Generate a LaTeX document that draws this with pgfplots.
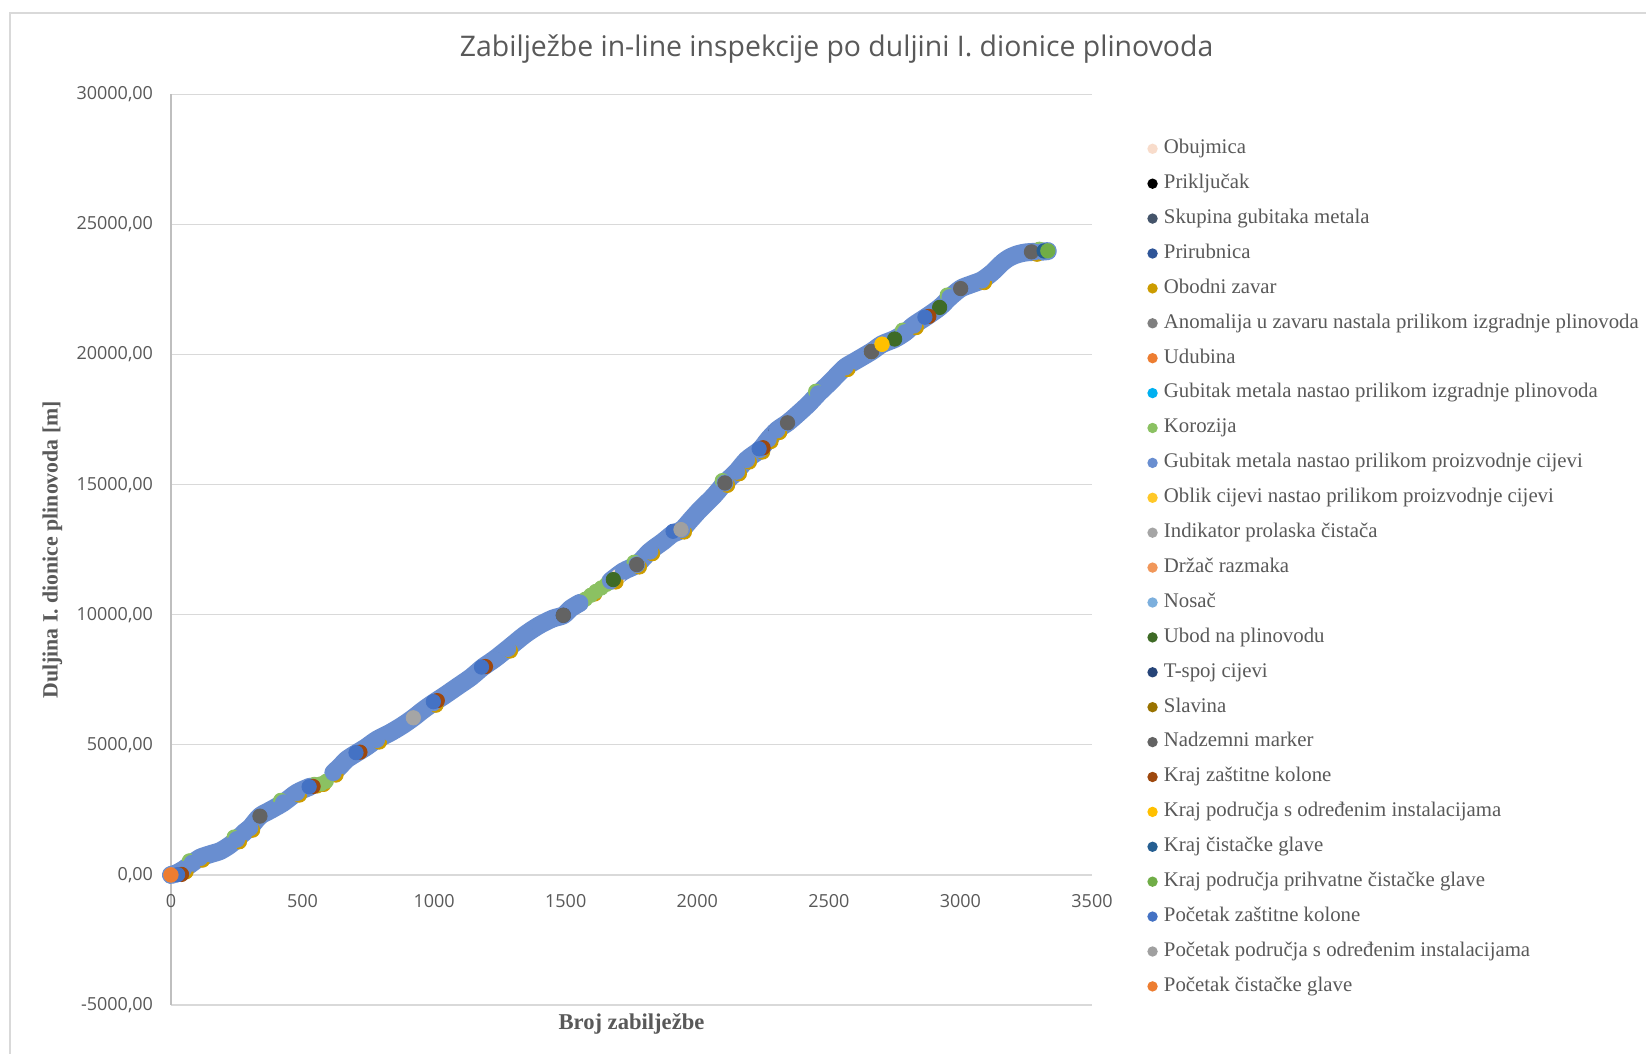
\documentclass[border=0pt]{standalone}
\usepackage{pgfplots}
\pgfplotsset{compat=1.18}
\usepackage{pgfplotstable}
\usepackage{fontspec}
\setmainfont{Liberation Serif}
\newfontfamily\osans{Open Sans}

\definecolor{textc}{HTML}{595959}
\definecolor{gridc}{HTML}{D9D9D9}
\definecolor{axisc}{HTML}{BFBFBF}
\definecolor{borderc}{HTML}{D9D9D9}
\definecolor{cA}{HTML}{F8DCCB}
\definecolor{cB}{HTML}{000000}
\definecolor{cC}{HTML}{44546A}
\definecolor{cD}{HTML}{2F5597}
\definecolor{cE}{HTML}{CC9C00}
\definecolor{cF}{HTML}{7F7F7F}
\definecolor{cG}{HTML}{ED7D31}
\definecolor{cH}{HTML}{00B0F0}
\definecolor{cI}{HTML}{8BC162}
\definecolor{cJ}{HTML}{698ED0}
\definecolor{cK}{HTML}{FFC828}
\definecolor{cL}{HTML}{A5A5A5}
\definecolor{cM}{HTML}{F1975A}
\definecolor{cN}{HTML}{7CAFDD}
\definecolor{cO}{HTML}{3E6B26}
\definecolor{cP}{HTML}{264478}
\definecolor{cQ}{HTML}{997300}
\definecolor{cR}{HTML}{636363}
\definecolor{cS}{HTML}{9E480E}
\definecolor{cT}{HTML}{FFC000}
\definecolor{cU}{HTML}{255E91}
\definecolor{cV}{HTML}{70AD47}
\definecolor{cW}{HTML}{4472C4}
\definecolor{cX}{HTML}{A0A0A0}
\definecolor{cY}{HTML}{ED7D31}

\pgfplotstableread{
x y
0 0
20 60
47 210
80 450
110 660
150 800
186 915
220 1120
250 1365
280 1650
300 1810
338 2260
380 2500
427 2775
478 3160
528 3390
}\mainA
\pgfplotstableread{
x y
617 3930
645 4200
668 4440
706 4690
740 4900
782 5200
832 5460
880 5750
921 6040
960 6350
997 6615
1040 6900
1090 7250
1140 7600
1185 7984
1230 8300
1280 8700
1345 9234
1400 9600
1450 9850
1491 9981
1520 10250
1554 10457
}\mainB
\pgfplotstableread{
x y
1670 11300
1719 11671
1770 11929
1820 12440
1871 12824
1905 13100
1941 13273
1975 13650
2010 14040
2061 14552
2105 15067
2150 15513
2188 15963
2238 16347
2270 16750
2303 17100
2343 17380
2380 17700
2423 18100
2460 18500
2502 18910
2530 19200
2562 19520
2600 19750
2662 20120
2702 20400
2750 20600
2790 20850
2822 21130
2870 21450
2921 21815
2960 22200
3001 22540
3040 22700
3081 22860
3120 23150
3161 23550
3190 23750
3221 23870
3250 23930
3281 23950
3310 23960
3332 23980
}\mainC

\pgfplotsset{
  legend image code/.code={\fill[#1, draw=none] (0pt,0pt) circle (2.6pt);},
  dots/.style={only marks, mark=*, mark size=3.6pt, color=#1},
}

\begin{document}
\begin{tikzpicture}
\useasboundingbox (0,0) rectangle (823pt,527pt);
\fill[white] (0,0) rectangle (823pt,527pt);
\draw[color=borderc, line width=0.8pt] (5pt,0pt) -- (5pt,520.5pt) -- (823pt,520.5pt);
\node[font=\osans\fontsize{14.2}{17}\selectfont, text=textc] at (418.3pt,502.3pt) {Zabilježbe in-line inspekcije po duljini I. dionice plinovoda};
\begin{axis}[
  at={(85.5pt,24.5pt)}, anchor=south west, scale only axis,
  width=460.5pt, height=455.25pt,
  xmin=0, xmax=3500, ymin=-5000, ymax=30000,
  clip=false,
  scaled x ticks=false, scaled y ticks=false,
  xtick={0,500,1000,1500,2000,2500,3000,3500},
  xticklabels={0,500,1000,1500,2000,2500,3000,3500},
  ytick={-5000,0,5000,10000,15000,20000,25000,30000},
  yticklabels={{-5000,00},{0,00},{5000,00},{10000,00},{15000,00},{20000,00},{25000,00},{30000,00}},
  axis x line=bottom, axis y line=left,
  x axis line style={draw=none},
  y axis line style={draw=axisc, line width=0.6pt, -},
  major tick length=0pt,
  ymajorgrids, major grid style={draw=gridc, line width=0.6pt},
  tick label style={font=\osans\fontsize{9}{11}\selectfont, text=textc},
  xticklabel style={anchor=center, inner sep=0pt, yshift=52.2pt},
  yticklabel style={anchor=east, inner sep=0pt, xshift=-8.8pt},
  xlabel={Broj zabilježbe},
  xlabel style={at={(axis description cs:0.5,-0.0203)}, anchor=center, font=\bfseries\fontsize{11.3}{13}\selectfont, text=textc},
  ylabel={Duljina I. dionice plinovoda [m]},
  ylabel style={at={(axis description cs:-0.1288,0.5)}, anchor=center, font=\bfseries\fontsize{10.9}{13}\selectfont, text=textc},
  legend cell align=left,
  legend style={draw=none, fill=none, at={(1.0601,0.9508)}, anchor=north west,
    inner sep=0pt, outer sep=0pt, font=\fontsize{10.4}{12}\selectfont, text=textc,
    row sep=7.95pt, column sep=3.1pt,
    nodes={inner sep=0pt, text height=7.2pt, text depth=2.3pt}},
]
% 1 Obujmica
\addplot[dots=cA] coordinates {(1700,11480)};
% 2 Prikljucak
\addplot[dots=cB] coordinates {(2300,17080)};
% 3 Skupina
\addplot[dots=cC] coordinates {(1230,8300)};
% 4 Prirubnica
\addplot[dots=cD] coordinates {(1000,6650)};
% 5 Obodni zavar
\addplot[dots=cE] coordinates {
(57,120) (120,570) (260,1275) (310,1720) (488,3070) (555,3420) (580,3480)
(627,3840) (792,5110) (1007,6525) (1290,8610) (1610,10800) (1691,11262)
(1780,11839) (1830,12350) (1951,13183) (2115,14977) (2160,15423) (2198,15873)
(2248,16257) (2280,16660) (2313,17010) (2572,19430) (2832,21040) (3091,22770)
(3291,23860)};
% 6 Anomalija
\addplot[dots=cF] coordinates {(2343,17380)};
% 7 Udubina
\addplot[dots=cG] coordinates {(15,30)};
% 8 Gubitak izgradnje
\addplot[dots=cH] coordinates {(1400,9600)};
% 9 Korozija
\addplot[dots=cI] coordinates {
(70,540) (240,1455) (417,2865) (545,3480) (570,3500) (590,3600) (1575,10600)
(1595,10750) (1615,10900) (1635,11030) (1655,11170) (1760,12019) (2095,15157)
(2450,18590) (2780,20940) (2950,22290) (3300,24050)};
% main band
\addplot[forget plot, no marks, smooth, color=cJ, line width=9pt, line cap=round, line join=round] table {\mainA};
\addplot[forget plot, no marks, smooth, color=cJ, line width=9pt, line cap=round, line join=round] table {\mainB};
\addplot[forget plot, no marks, smooth, color=cJ, line width=9pt, line cap=round, line join=round] table {\mainC};
% 10 Gubitak proizvodnje
\addplot[only marks, mark=*, mark size=4pt, color=cJ] table {\mainA};
\addplot[forget plot, only marks, mark=*, mark size=4pt, color=cJ] table {\mainB};
\addplot[forget plot, only marks, mark=*, mark size=4pt, color=cJ] table {\mainC};
% 11 Oblik
\addplot[dots=cK] coordinates {(2702,20400)};
% 12 Indikator
\addplot[dots=cL] coordinates {(921,6040)};
% 13 Drzac
\addplot[dots=cM] coordinates {(0,0)};
% 14 Nosac
\addplot[dots=cN] coordinates {(3332,23990)};
% 15 Ubod
\addplot[dots=cO] coordinates {(1681,11352) (2750,20600) (2921,21815)};
% 16 T-spoj
\addplot[dots=cP] coordinates {(1491,9981)};
% 17 Slavina
\addplot[dots=cQ] coordinates {(2662,20120)};
% 18 Nadzemni marker
\addplot[dots=cR] coordinates {(338,2260) (1491,9981) (1770,11929) (2105,15067) (2343,17380) (2662,20120) (3001,22540) (3270,23950)};
% 19 Kraj zastitne kolone
\addplot[dots=cS] coordinates {(40,20) (540,3400) (718,4720) (1012,6700) (1195,8010) (2250,16420) (2880,21470)};
% 20 Kraj podrucja s odredenim
\addplot[dots=cT] coordinates {(2702,20400)};
% 21 Kraj cistacke glave
\addplot[dots=cU] coordinates {(3318,23985)};
% 22 Kraj podrucja prihvatne
\addplot[dots=cV] coordinates {(3332,23990)};
% 23 Pocetak zastitne kolone
\addplot[dots=cW] coordinates {(25,10) (525,3390) (703,4700) (997,6660) (1180,7990) (1908,13210) (2235,16380) (2865,21440)};
% 24 Pocetak podrucja s odredenim
\addplot[dots=cX] coordinates {(1938,13275)};
% 25 Pocetak cistacke glave
\addplot[dots=cY] coordinates {(0,0)};
\legend{Obujmica, Priključak, Skupina gubitaka metala, Prirubnica, Obodni zavar,
Anomalija u zavaru nastala prilikom izgradnje plinovoda, Udubina,
Gubitak metala nastao prilikom izgradnje plinovoda, Korozija,
Gubitak metala nastao prilikom proizvodnje cijevi,
Oblik cijevi nastao prilikom proizvodnje cijevi, Indikator prolaska čistača,
Držač razmaka, Nosač, Ubod na plinovodu, T-spoj cijevi, Slavina, Nadzemni marker,
Kraj zaštitne kolone, Kraj područja s određenim instalacijama, Kraj čistačke glave,
Kraj područja prihvatne čistačke glave, Početak zaštitne kolone,
Početak područja s određenim instalacijama, Početak čistačke glave}
\end{axis}
\end{tikzpicture}
\end{document}
